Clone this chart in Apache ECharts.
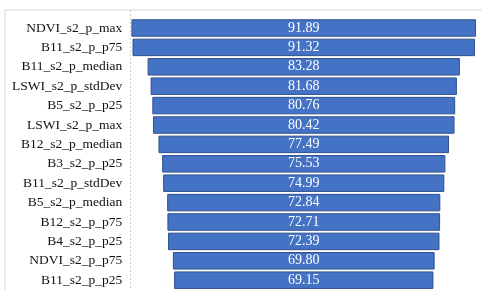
<!DOCTYPE html>
<html>
<head>
<meta charset="utf-8">
<script src="https://cdn.jsdelivr.net/npm/echarts@6/dist/echarts.min.js"></script>
<style>
html,body{margin:0;padding:0;background:#fff;}
#main{width:482px;height:290px;}
</style>
</head>
<body>
<div id="main"></div>
<script>
var categories = ['NDVI_s2_p_max','B11_s2_p_p75','B11_s2_p_median','LSWI_s2_p_stdDev','B5_s2_p_p25','LSWI_s2_p_max','B12_s2_p_median','B3_s2_p_p25','B11_s2_p_stdDev','B5_s2_p_median','B12_s2_p_p75','B4_s2_p_p25','NDVI_s2_p_p75','B11_s2_p_p25'];
var values = [91.89,91.32,83.28,81.68,80.76,80.42,77.49,75.53,74.99,72.84,72.71,72.39,69.80,69.15];

var centreSpan = 92;
var offsets = values.map(function(v){ return (centreSpan - v) / 2; });

var chart = echarts.init(document.getElementById('main'), null, {renderer:'canvas'});
chart.setOption({
  animation: false,
  backgroundColor: '#fff',
  graphic: [
    {type:'rect', shape:{x:5, y:10, width:490, height:300}, style:{fill:'none', stroke:'#d9d9d9', lineWidth:1}, z:-10},
    {type:'line', shape:{x1:130.5, y1:10, x2:130.5, y2:290}, style:{stroke:'#d0d0d0', lineWidth:1, lineDash:[2,2]}, z:-10}
  ],
  grid: {left:131.25, top:18.3, width:348.75, height:271.6, containLabel:false},
  xAxis: {type:'value', min:0, max:93, show:false},
  yAxis: {
    type:'category', data:categories, inverse:true,
    axisLine:{show:false}, axisTick:{show:false},
    axisLabel:{fontFamily:'Liberation Serif', fontSize:13.5, color:'#111', margin:9}
  },
  series: [
    {type:'bar', stack:'f', data:offsets, itemStyle:{color:'transparent'}, barWidth:17.5, silent:true},
    {type:'bar', stack:'f', data:values, barWidth:17.5,
      itemStyle:{color:'#4472C4', borderColor:'#2F528F', borderWidth:1},
      label:{show:true, position:'inside', color:'#fff', fontFamily:'Liberation Serif', fontSize:14,
        formatter:function(p){ return p.value.toFixed(2); }}
    }
  ]
});
</script>
</body>
</html>
